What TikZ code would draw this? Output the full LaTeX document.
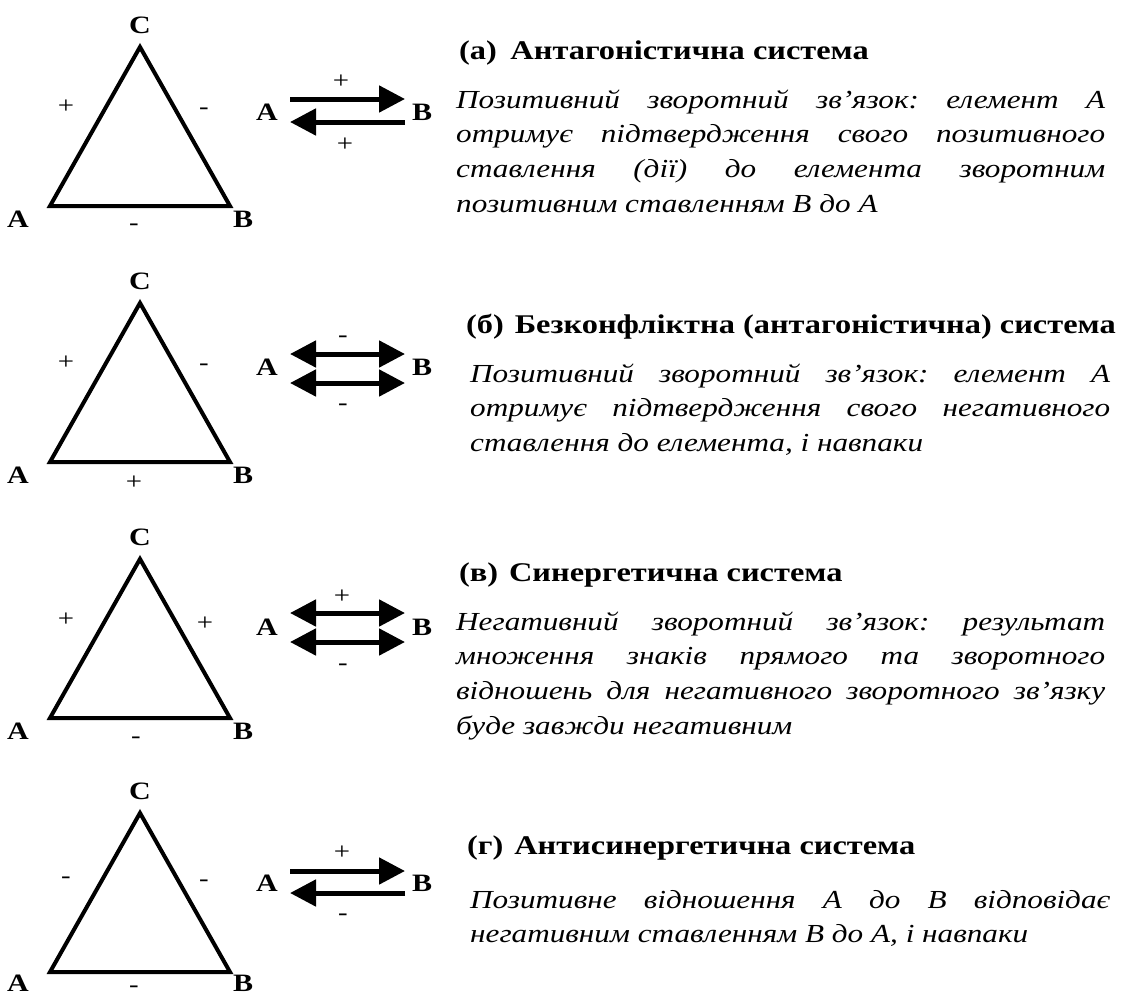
\documentclass[tikz,border=0pt]{standalone}
\usepackage{fontspec}
\setmainfont{Liberation Serif}[FakeStretch=1.2]
\usetikzlibrary{arrows.meta}
\usetikzlibrary{positioning}
\tikzstyle{side} = [line width=4pt, line join=miter]
\tikzstyle{vertex} = [font=\fontsize{25}{25}\selectfont\bfseries, inner sep=0pt]
\tikzstyle{sign} = [font=\fontsize{24}{24}\selectfont, inner sep=0pt]
\tikzstyle{link} = [line width=5pt, -{Triangle[length=26pt,width=26pt]}]
\tikzstyle{twolink} = [line width=5pt, {Triangle[length=26pt,width=26pt]}-{Triangle[length=26pt,width=26pt]}]
\tikzstyle{heading} = [font=\fontsize{27}{30}\selectfont\bfseries, anchor=base west, inner sep=0pt]
\tikzstyle{body} = [font=\fontsize{26}{34.7}\selectfont\itshape,
    text width=649pt, align=justify, anchor=base west, inner sep=0pt]

\begin{document}
\hyphenpenalty=10000
\tolerance=10000
\frenchspacing
\begin{tikzpicture}[x=1pt, y=-1pt, >=Triangle]
    \useasboundingbox (0,0) rectangle (1121,999);

    % (a) first triangle and its arrows
    \begin{scope}
    \coordinate (Ca) at (140,47);
    \coordinate (Aa) at (50,206);
    \coordinate (Ba) at (230,206);
    \draw [side] (Aa) -- (Ca) -- (Ba) -- cycle;
    \node [vertex, above=13pt of Ca] (labCa) {C};
    \node [vertex, below left=5pt and 21pt of Aa] (labAa) {A};
    \node [vertex, below right=5pt and 3pt of Ba] (labBa) {B};
    \node [sign] (sACa) at (66,107) {+};
    \node [sign] (sCBa) at (204,111) {-};
    \node [sign] (sABa) at (134,227) {-};
    \coordinate (pLa) at (290,99);
    \coordinate (pRa) at (405,99);
    \coordinate (qLa) at (290,122);
    \coordinate (qRa) at (405,122);
    \draw [link] (pLa) -- (pRa);
    \draw [link] (qRa) -- (qLa);
    \node [vertex] (endAa) at (267,112) {A};
    \node [vertex] (endBa) at (422,112) {B};
    \node [sign] (upa) at (341,82) {+};
    \node [sign] (dna) at (345,145) {+};
    \node [heading] (heada) at (459,59) {(а)\hspace{0.5em}Антагоністична система};
    \node [body] (texta) at (456,108) {Позитивний зворотний зв'язок: елемент А\linebreak
        отримує підтвердження свого позитивного\linebreak
        ставлення (дії) до елемента зворотним\linebreak
        позитивним ставленням В до А};
    \end{scope}

    % (b) second triangle
    \begin{scope}[yshift=-256pt]
    \coordinate (Cb) at (140,47);
    \coordinate (Ab) at (50,206);
    \coordinate (Bb) at (230,206);
    \draw [side] (Ab) -- (Cb) -- (Bb) -- cycle;
    \node [vertex, above=13pt of Cb] (labCb) {C};
    \node [vertex, below left=5pt and 21pt of Ab] (labAb) {A};
    \node [vertex, below right=5pt and 3pt of Bb] (labBb) {B};
    \node [sign] (sACb) at (66,107) {+};
    \node [sign] (sCBb) at (204,111) {-};
    \node [sign] (sABb) at (134,227) {+};
    \coordinate (pLb) at (290,98);
    \coordinate (pRb) at (405,98);
    \coordinate (qLb) at (290,127);
    \coordinate (qRb) at (405,127);
    \draw [twolink] (pLb) -- (pRb);
    \draw [twolink] (qLb) -- (qRb);
    \node [vertex] (endAb) at (267,111) {A};
    \node [vertex] (endBb) at (422,111) {B};
    \node [sign] (upb) at (343,83) {-};
    \node [sign] (dnb) at (343,151) {-};
    \node [heading] (headb) at (466,77) {(б)\hspace{0.4em}Безконфліктна (антагоністична) система};
    \node [body, text width=640pt] (textb) at (470,126) {Позитивний зворотний зв'язок: елемент А\linebreak
        отримує підтвердження свого негативного\linebreak
        ставлення до елемента, і навпаки};
    \end{scope}

    % (c) third triangle
    \begin{scope}[yshift=-512pt]
    \coordinate (Cc) at (140,47);
    \coordinate (Ac) at (50,206);
    \coordinate (Bc) at (230,206);
    \draw [side] (Ac) -- (Cc) -- (Bc) -- cycle;
    \node [vertex, above=13pt of Cc] (labCc) {C};
    \node [vertex, below left=5pt and 21pt of Ac] (labAc) {A};
    \node [vertex, below right=5pt and 3pt of Bc] (labBc) {B};
    \node [sign] (sACc) at (66,108) {+};
    \node [sign] (sCBc) at (205,112) {+};
    \node [sign] (sABc) at (136,228) {-};
    \coordinate (pLc) at (290,101);
    \coordinate (pRc) at (405,101);
    \coordinate (qLc) at (290,130);
    \coordinate (qRc) at (405,130);
    \draw [twolink] (pLc) -- (pRc);
    \draw [twolink] (qLc) -- (qRc);
    \node [vertex] (endAc) at (267,115) {A};
    \node [vertex] (endBc) at (422,115) {B};
    \node [sign] (upc) at (342,85) {+};
    \node [sign] (dnc) at (343,155) {-};
    \node [heading] (headc) at (459,69) {(в)\hspace{0.4em}Синергетична система};
    \node [body] (textc) at (456,118) {Негативний зворотний зв'язок: результат\linebreak
        множення знаків прямого та зворотного\linebreak
        відношень для негативного зворотного зв'язку\linebreak
        буде завжди негативним};
    \end{scope}

    % (d) last triangle
    \begin{scope}[yshift=-766pt]
    \coordinate (Cd) at (140,47);
    \coordinate (Ad) at (50,206);
    \coordinate (Bd) at (230,206);
    \draw [side] (Ad) -- (Cd) -- (Bd) -- cycle;
    \node [vertex, above=13pt of Cd] (labCd) {C};
    \node [vertex, below left=3pt and 21pt of Ad] (labAd) {A};
    \node [vertex, below right=3pt and 3pt of Bd] (labBd) {B};
    \node [sign] (sACd) at (66,114) {-};
    \node [sign] (sCBd) at (204,117) {-};
    \node [sign] (sABd) at (134,223) {-};
    \coordinate (pLd) at (290,105);
    \coordinate (pRd) at (405,105);
    \coordinate (qLd) at (290,127);
    \coordinate (qRd) at (405,127);
    \draw [link] (pLd) -- (pRd);
    \draw [link] (qRd) -- (qLd);
    \node [vertex] (endAd) at (267,117) {A};
    \node [vertex] (endBd) at (422,117) {B};
    \node [sign] (upd) at (342,87) {+};
    \node [sign] (dnd) at (343,151) {-};
    \node [heading] (headd) at (467,88) {(г)\hspace{0.4em}Антисинергетична система};
    \node [body, text width=640pt] (textd) at (470,142) {Позитивне відношення А до В відповідає\linebreak
        негативним ставленням В до А, і навпаки};
    \end{scope}
\end{tikzpicture}
\end{document}
